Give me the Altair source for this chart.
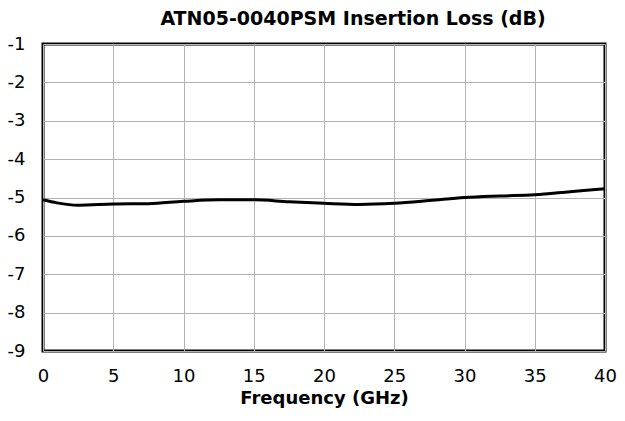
import altair as alt
import pandas as pd

freq = [0, 1, 2.5, 5, 7.5, 10, 12.5, 15, 17.5, 20, 22.5, 25, 27.5, 30, 32.5, 35, 37.5, 40]
loss = [-5.06, -5.14, -5.2, -5.17, -5.16, -5.1, -5.06, -5.06, -5.11, -5.15, -5.18, -5.15, -5.08, -5.0, -4.96, -4.93, -4.85, -4.77]
x_ticks = [0, 5, 10, 15, 20, 25, 30, 35, 40]
y_ticks = [-9, -8, -7, -6, -5, -4, -3, -2, -1]

df = pd.DataFrame({"freq": freq, "loss": loss})

chart = alt.Chart(df).mark_line(
    color="black", strokeWidth=3, interpolate="monotone"
).encode(
    x=alt.X("freq:Q", title="Frequency (GHz)",
            scale=alt.Scale(domain=[0, 40], nice=False),
            axis=alt.Axis(values=x_ticks, labelPadding=16, titlePadding=4,
                          labelFlush=False, titleFontSize=18)),
    y=alt.Y("loss:Q", title=None,
            scale=alt.Scale(domain=[-9, -1], nice=False),
            axis=alt.Axis(values=y_ticks, labelPadding=18, labelAlign="right",
                          labelFlush=False, labelExpr="'' + datum.value")),
).properties(
    width=562, height=307,
    title=alt.TitleParams("ATN05-0040PSM Insertion Loss (dB)", fontSize=19,
                          fontWeight="bold", font="DejaVu Sans", dx=29, offset=6,
                          color="black"),
    autosize=alt.AutoSizeParams(type="none"),
    padding={"left": 35, "top": 36, "right": 12, "bottom": 62},
).configure_view(
    stroke="black", strokeWidth=3
).configure_axis(
    grid=True, gridColor="#b3b3b3", gridWidth=1, domain=False, ticks=False,
    labelFont="DejaVu Sans", labelFontSize=18, labelColor="black",
    titleFont="DejaVu Sans", titleFontSize=19, titleFontWeight="bold", titleColor="black",
)

chart.save("out.html", embed_options={"renderer": "svg", "actions": False})
